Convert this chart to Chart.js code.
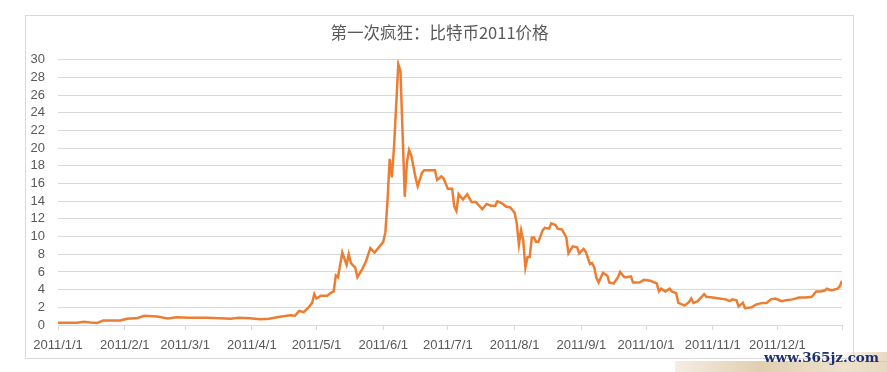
<!DOCTYPE html>
<html>
<head>
<meta charset="utf-8">
<script src="https://cdn.jsdelivr.net/npm/chart.js@4/dist/chart.umd.min.js"></script>
<style>
  html, body { margin: 0; padding: 0; background: #ffffff; width: 887px; height: 372px; overflow: hidden; }
  #wrap { position: absolute; left: 25px; top: 15px; width: 829px; height: 344px; }
  #texture { position: absolute; left: 675px; top: 361px; width: 212px; height: 11px;
    background: linear-gradient(90deg, rgba(225,205,175,0.35), rgba(215,190,150,0.75) 40%, rgba(225,205,170,0.6) 80%, rgba(220,200,165,0.7)); }
  #texture2 { position: absolute; left: 845px; top: 352px; width: 42px; height: 10px;
    background: linear-gradient(90deg, rgba(225,205,175,0.2), rgba(215,190,150,0.6)); }
  #wm { position: absolute; left: 764px; top: 349px; font-family: "DejaVu Serif", serif; font-weight: bold;
    font-size: 13.5px; color: #1f2f6e; white-space: nowrap; }
</style>
</head>
<body>
<div id="texture"></div>
<div id="texture2"></div>
<div id="wrap"><canvas id="c" width="829" height="344"></canvas></div>
<div id="wm">www.365jz.com</div>
<script>
// ---- data (day of year 2011, 0 = 2011/1/1) ----
const days = [0,9,12,15,18,21,29,32,37,40,46,51,55,61,69,75,80,84,89,94,98,103,108,110,112,114,116,118,119,120,122,125,127,128,129,130,132,134,135,136,138,139,141,143,145,147,149,151,152,153,154,155,156,158,159,161,162,163,164,166,167,169,170,175,176,178,179,181,183,184,185,186,188,190,192,194,197,199,201,203,204,206,208,210,212,213,214,215,216,217,218,219,220,221,222,223,225,226,228,229,231,232,234,236,237,239,241,242,244,245,247,248,249,250,251,253,255,256,258,260,261,263,264,266,267,270,272,275,278,279,280,282,284,285,287,288,290,291,293,294,295,297,300,301,304,307,310,312,313,315,316,318,319,322,324,327,329,331,333,336,338,341,344,347,350,352,354,356,357,359,362,363,364];
const prices = [0.25,0.25,0.37,0.27,0.22,0.5,0.5,0.7,0.8,1.05,0.95,0.75,0.87,0.83,0.83,0.75,0.7,0.83,0.75,0.65,0.7,0.94,1.1,1.05,1.6,1.45,1.9,2.5,3.5,3.0,3.3,3.3,3.7,3.8,5.6,5.4,8.2,6.8,8.0,7.0,6.5,5.4,6.2,7.2,8.7,8.2,8.8,9.4,10.5,14.1,18.8,16.7,20.1,29.5,28.7,14.5,18.4,19.8,19.2,16.7,15.7,17.2,17.5,17.5,16.4,16.8,16.6,15.4,15.4,13.4,12.9,14.8,14.2,14.8,13.9,13.9,13.1,13.7,13.5,13.5,14.0,13.8,13.4,13.3,12.7,11.5,9.1,10.7,9.6,6.5,7.7,7.7,9.9,9.9,9.4,9.4,10.7,11.0,10.9,11.5,11.3,10.9,10.8,9.9,8.1,8.9,8.8,8.1,8.6,8.3,6.9,7.0,6.5,5.3,4.8,5.9,5.6,4.8,4.7,5.4,6.0,5.4,5.4,5.5,4.8,4.8,5.1,5.0,4.7,3.8,4.1,3.8,4.1,3.8,3.6,2.5,2.3,2.2,2.6,3.0,2.5,2.7,3.5,3.2,3.1,3.0,2.9,2.7,2.9,2.8,2.1,2.5,1.9,2.0,2.3,2.5,2.5,2.9,3.0,2.7,2.8,2.9,3.1,3.1,3.2,3.8,3.8,3.9,4.1,3.9,4.1,4.4,5.0];
const monthTickDays = [0,31,59,90,120,151,181,212,243,273,304,334,364];
const monthTickLabels = ['2011/1/1','2011/2/1','2011/3/1','2011/4/1','2011/5/1','2011/6/1','2011/7/1','2011/8/1','2011/9/1','2011/10/1','2011/11/1','2011/12/1',''];
const yTicks = [0,2,4,6,8,10,12,14,16,18,20,22,24,26,28,30];
const chartTitle = '第一次疯狂：比特币2011价格';

const textColor = '#595959';
const gridColor = '#d9d9d9';

const borderPlugin = {
  id: 'outerBorder',
  beforeDraw(chart) {
    const ctx = chart.ctx;
    ctx.save();
    ctx.strokeStyle = gridColor;
    ctx.lineWidth = 1;
    ctx.strokeRect(0.5, 0.5, chart.width - 1, chart.height - 1);
    ctx.restore();
  }
};

new Chart(document.getElementById('c'), {
  type: 'line',
  data: {
    datasets: [{
      data: days.map((d, i) => ({ x: d, y: prices[i] })),
      borderColor: '#ED7D31',
      backgroundColor: '#ED7D31',
      borderWidth: 2.5,
      pointRadius: 0,
      tension: 0,
      fill: false
    }]
  },
  plugins: [borderPlugin],
  options: {
    responsive: false,
    animation: false,
    layout: { padding: 0 },
    plugins: {
      legend: { display: false },
      tooltip: { enabled: false },
      title: {
        display: true,
        text: chartTitle,
        color: textColor,
        font: { family: '"Noto Sans CJK SC", sans-serif', size: 16.5, weight: 'normal' },
        padding: { top: 8, bottom: 17 }
      }
    },
    scales: {
      x: {
        type: 'linear',
        min: 0,
        max: 364,
        afterBuildTicks(scale) { scale.ticks = monthTickDays.map(v => ({ value: v })); },
        afterFit(scale) { scale.height = 34; },
        ticks: {
          autoSkip: false,
          maxRotation: 0,
          color: textColor,
          padding: 8,
          font: { family: '"Liberation Sans", sans-serif', size: 13 },
          callback: (v, i) => monthTickLabels[i]
        },
        grid: { drawOnChartArea: false, drawTicks: true, tickLength: 5, color: gridColor },
        border: { display: true, color: gridColor, width: 1 }
      },
      y: {
        min: 0,
        max: 30,
        afterBuildTicks(scale) { scale.ticks = yTicks.map(v => ({ value: v })); },
        afterFit(scale) { scale.width = 33; },
        ticks: {
          autoSkip: false,
          color: textColor,
          padding: 13,
          font: { family: '"Liberation Sans", sans-serif', size: 13 }
        },
        grid: { color: gridColor, drawTicks: false, lineWidth: 1 },
        border: { display: false }
      },
      yRight: {
        position: 'right',
        min: 0,
        max: 30,
        afterFit(scale) { scale.width = 12; },
        ticks: { display: false },
        grid: { display: false, drawOnChartArea: false },
        border: { display: false }
      }
    }
  }
});
</script>
</body>
</html>
